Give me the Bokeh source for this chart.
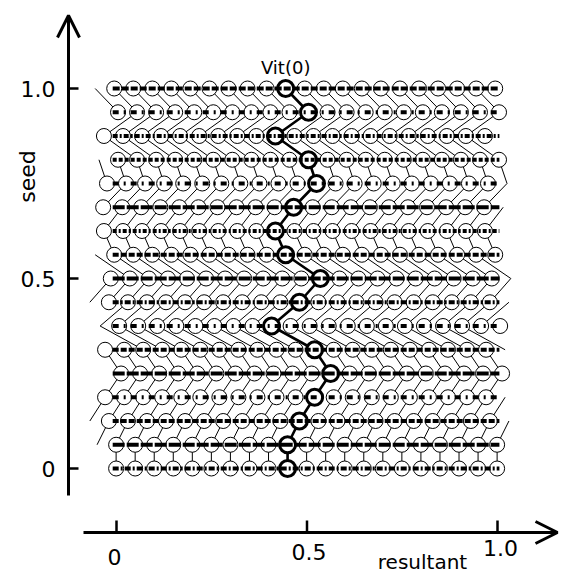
from bokeh.plotting import figure
from bokeh.models import Range1d, Arrow, OpenHead
from bokeh.core.properties import value
from bokeh.embed import file_html
from bokeh.resources import INLINE

# ---- data ----
seed = [1.0, 0.9375, 0.875, 0.8125, 0.75, 0.6875, 0.625, 0.5625, 0.5,
        0.4375, 0.375, 0.3125, 0.25, 0.1875, 0.125, 0.0625, 0.0]
vit_x = [0.444, 0.504, 0.417, 0.504, 0.525, 0.465, 0.417, 0.444, 0.535,
         0.480, 0.407, 0.520, 0.562, 0.520, 0.480, 0.449, 0.449]
grid_step = 0.05
x_ticks = [0.0, 0.5, 1.0]
x_tick_labels = ["0", "0.5", "1.0"]
y_ticks = [0.0, 0.5, 1.0]
y_tick_labels = ["0", "0.5", "1.0"]
x_label = "resultant"
y_label = "seed"
path_label = "Vit(0)"

# ---- styles ----
row_dash = ["7 2", "6 5 2 5", "5 2 2 2", "4 2", "6 5 2 5", "12 2", "4 2 2 2",
            "6 2", "12 2", "6 2 2 2", "6 5 2 5", "6 2", "12 2", "6 5 2 5",
            "6 2", "12 2", "6 2 2 2"]
FONT = "DejaVu Sans"

W, H = 560, 579
SX = 381.0   # px per data unit (x)
SY = 380.0   # px per data unit (y)
X0 = -116 / SX
X1 = X0 + W / SX
Y1 = 468 / SY
Y0 = Y1 - H / SY


def X(px):
    return (px - 116) / SX


def Y(py):
    return (468 - py) / SY


p = figure(width=W, height=H, x_range=Range1d(X0, X1), y_range=Range1d(Y0, Y1),
           output_backend="svg", toolbar_location=None, min_border=0,
           x_axis_type=None, y_axis_type=None)
p.outline_line_color = None
p.background_fill_color = "white"

lo, hi = -0.037, 1.012

# nodes
nx, ny = [], []
for y, c in zip(seed, vit_x):
    for k in range(-12, 13):
        x = c + k * grid_step
        if lo <= x <= hi:
            nx.append(x)
            ny.append(y)

# links between consecutive rows (parallel to the path)
sx0, sy0, sx1, sy1 = [], [], [], []
for r in range(len(seed) - 1):
    for k in range(-12, 13):
        xa = vit_x[r] + k * grid_step
        xb = vit_x[r + 1] + k * grid_step
        if (lo <= xa <= hi and lo - 0.04 <= xb <= hi + 0.04) or \
           (lo <= xb <= hi and lo - 0.04 <= xa <= hi + 0.04):
            sx0.append(xa); sy0.append(seed[r])
            sx1.append(xb); sy1.append(seed[r + 1])

p.segment(sx0, sy0, sx1, sy1, line_color="black", line_width=1)
p.line(vit_x, seed, line_color="black", line_width=2.6)
p.scatter(nx, ny, marker="circle", size=15, fill_color="white",
          line_color="black", line_width=1)
p.scatter(vit_x, seed, marker="circle", size=16, fill_color="white",
          line_color="black", line_width=3)

for r, y in enumerate(seed):
    p.line([-0.01, 1.005], [y, y], line_color="black", line_width=4,
           line_dash=row_dash[r])

# axes
ax_x = X(68)
ax_y = Y(532)
p.add_layout(Arrow(end=OpenHead(size=22, line_width=3, line_color="black"),
                   x_start=ax_x, y_start=Y(495), x_end=ax_x, y_end=Y(15),
                   line_width=3, line_color="black"))
p.add_layout(Arrow(end=OpenHead(size=22, line_width=3, line_color="black"),
                   x_start=X(83), y_start=ax_y, x_end=X(557), y_end=ax_y,
                   line_width=3, line_color="black"))

p.segment([ax_x] * 3, y_ticks, [ax_x + 10 / SX] * 3, y_ticks,
          line_color="black", line_width=2.5)
p.segment(x_ticks, [ax_y] * 3, x_ticks, [ax_y + 12 / SY] * 3,
          line_color="black", line_width=2.5)

p.text([ax_x - 13 / SX] * 3, y_ticks, text=y_tick_labels, text_font=value(FONT),
       text_font_size="22px", text_align="right", text_baseline="middle",
       text_color="black")
x_lab_dy = [24, 19, 15]
x_lab_dx = [-2, 2, 3]
p.text([t + dx / SX for t, dx in zip(x_ticks, x_lab_dx)],
       [ax_y - dy / SY for dy in x_lab_dy], text=x_tick_labels,
       text_font=value(FONT), text_font_size="22px", text_align="center",
       text_baseline="middle", text_color="black")

p.text([X(422)], [Y(561)], text=[x_label], text_font=value(FONT),
       text_font_size="20px", text_align="center", text_baseline="middle",
       text_color="black")
p.text([X(27)], [Y(176)], text=[y_label], text_font=value(FONT),
       text_font_size="22px", text_align="center", text_baseline="middle",
       angle=1.5708, text_color="black")
p.text([vit_x[0]], [Y(67)], text=[path_label], text_font=value(FONT),
       text_font_size="18px", text_align="center", text_baseline="middle",
       text_color="black")

open("out.html", "w").write(file_html(p, INLINE))
